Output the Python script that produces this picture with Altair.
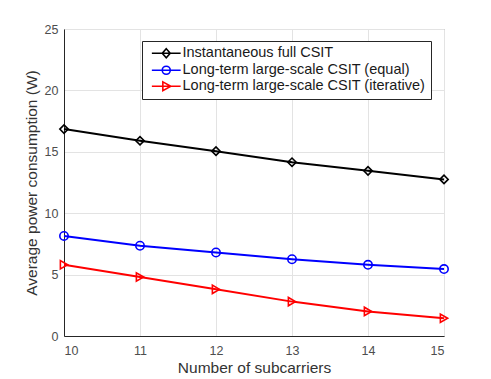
import altair as alt
import pandas as pd

subcarriers = [10, 11, 12, 13, 14, 15]
series_names = [
    "Instantaneous full CSIT",
    "Long-term large-scale CSIT (equal)",
    "Long-term large-scale CSIT (iterative)",
]
full_csit = [16.85, 15.9, 15.05, 14.15, 13.45, 12.75]
equal_csit = [8.15, 7.35, 6.8, 6.25, 5.8, 5.45]
iterative_csit = [5.8, 4.8, 3.8, 2.8, 2.0, 1.45]
colors = ["#000000", "#0000ff", "#ff0000"]
marker_shapes = ["diamond", "circle", "triangle-right"]
legend_shapes = [
    "M-3.6,0H3.6M0,-1.15L1,0L0,1.15L-1,0Z",
    "M-3.6,0H3.6M-1,0A1,1 0 1,0 1,0A1,1 0 1,0 -1,0",
    "M-3.6,0H3.6M-0.85,-1.1L1.15,0L-0.85,1.1Z",
]

rows = []
for name, vals in zip(series_names, [full_csit, equal_csit, iterative_csit]):
    for x, y in zip(subcarriers, vals):
        rows.append({"n": x, "p": y, "series": name})
df = pd.DataFrame(rows)

font = "Liberation Sans"
xenc = alt.X(
    "n:Q",
    scale=alt.Scale(domain=[10, 15], nice=False),
    axis=alt.Axis(
        title="Number of subcarriers", values=subcarriers, format="d",
        grid=True, gridColor="#e3e3e3", domainColor="#262626", ticks=False,
        labelColor="#4d4d4d", labelFontSize=12.5, labelFont=font,
        titleFont=font, titleFontSize=15.5, titleFontWeight="normal", titleColor="#333333",
        labelPadding=8, titlePadding=4,
    ),
)
yenc = alt.Y(
    "p:Q",
    scale=alt.Scale(domain=[0, 25], nice=False),
    axis=alt.Axis(
        title="Average power consumption (W)", values=[0, 5, 10, 15, 20, 25],
        grid=True, gridColor="#e3e3e3", domainColor="#262626", ticks=False,
        labelColor="#4d4d4d", labelFontSize=12.5, labelFont=font,
        titleFont=font, titleFontSize=15.5, titleFontWeight="normal", titleColor="#333333",
        labelPadding=6, titlePadding=5,
    ),
)
color_scale = alt.Scale(domain=series_names, range=colors)

lines = alt.Chart(df).mark_line(strokeWidth=2).encode(
    x=xenc, y=yenc,
    color=alt.Color("series:N", scale=color_scale, legend=None),
)
points = alt.Chart(df).mark_point(filled=False, size=70, strokeWidth=1.6, opacity=1).encode(
    x=xenc, y=yenc,
    color=alt.Color("series:N", scale=color_scale, legend=None),
    shape=alt.Shape("series:N", scale=alt.Scale(domain=series_names, range=marker_shapes), legend=None),
)
legend_layer = alt.Chart(df).transform_filter("false").mark_point(filled=False).encode(
    x=xenc, y=yenc,
    color=alt.Color("series:N", scale=color_scale,
                    legend=alt.Legend(title=None, orient="none", legendX=78, legendY=12)),
    shape=alt.Shape("series:N", scale=alt.Scale(domain=series_names, range=legend_shapes),
                    legend=alt.Legend(title=None, orient="none", legendX=78, legendY=12)),
)

chart = (
    alt.layer(lines, points, legend_layer)
    .resolve_scale(color="independent", shape="independent")
    .properties(width=380, height=307, autosize=alt.AutoSizeParams(type="none"),
                padding={"left": 56, "top": 21, "right": 30, "bottom": 42})
    .configure_view(stroke="#8c8c8c", strokeWidth=1)
    .configure_legend(
        strokeColor="#262626", fillColor="white", padding=5, rowPadding=0,
        symbolSize=64, symbolStrokeWidth=1.6, symbolOpacity=1, symbolFillColor="transparent",
        symbolOffset=12, labelOffset=9,
        labelFont=font, labelFontSize=14.5, labelColor="#1a1a1a",
        labelLimit=400,
    )
)
chart.save("out.html", embed_options={"renderer": "svg", "actions": False})
